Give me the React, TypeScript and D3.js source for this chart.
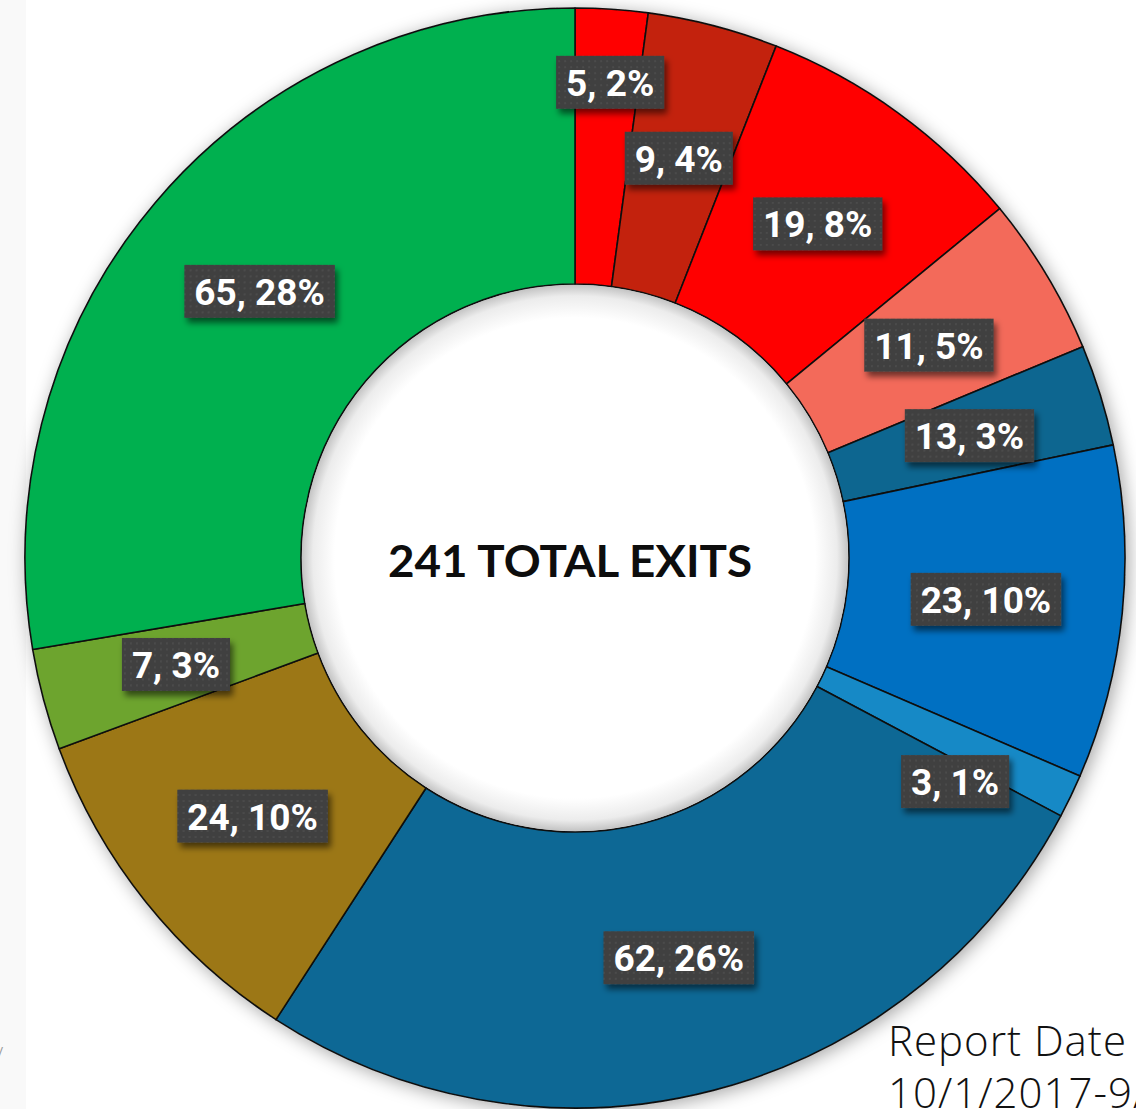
import React from "react";
import * as d3 from "d3";

// slice sizes (the "13, 3%" slice is drawn as ~7 in the source)
const values = [5, 9, 19, 11, 7, 23, 3, 62, 24, 7, 65];
const labels = ["5, 2%", "9, 4%", "19, 8%", "11, 5%", "13, 3%", "23, 10%", "3, 1%", "62, 26%", "24, 10%", "7, 3%", "65, 28%"];
const colors = ["#FF0000", "#C3220F", "#FF0000", "#F36A5A", "#0C6690", "#0070C2", "#1489C6", "#0F6895", "#9C7712", "#6DA42E", "#00B050"];
const centerTitle = "241 TOTAL EXITS";
const footer = ["Report Date", "10/1/2017-9/30/2018"];

const W = 1136;
const H = 1109;
const cx = 575;
const cy = 558;
const outerR = 550;
const innerR = 274;
const labelR = 413;
// a couple of labels were dragged in the original: [extra radius, extra angle in degrees]
const labelNudge: Record<number, [number, number]> = { 0: [64, 0.4], 6: [28, 4.8] };

const LABEL_FONT = "bold 37px Roboto";

const measure = (() => {
  let ctx: CanvasRenderingContext2D | null = null;
  return (s: string) => {
    if (!ctx) ctx = document.createElement("canvas").getContext("2d");
    if (!ctx) return s.length * 19;
    ctx.font = LABEL_FONT;
    return ctx.measureText(s).width;
  };
})();

export default function App() {
  const pie = d3.pie<number>().sort(null).value(d => d).startAngle(0).endAngle(2 * Math.PI);
  const arcs = pie(values);
  const arc = d3.arc<d3.PieArcDatum<number>>().innerRadius(innerR).outerRadius(outerR);

  return (
    <div style={{ position: "absolute", left: 0, top: 0, width: W, height: H, overflow: "hidden", background: "#fff" }}>
      <svg width={W} height={H}>
        <defs>
          <filter id="ringShadow" x="-10%" y="-10%" width="120%" height="120%">
            <feDropShadow dx="3" dy="3" stdDeviation="9" floodColor="#000" floodOpacity="0.35" />
          </filter>
          <filter id="boxShadow" x="-20%" y="-30%" width="140%" height="170%">
            <feDropShadow dx="3" dy="5" stdDeviation="3" floodColor="#000" floodOpacity="0.55" />
          </filter>
          <radialGradient id="hole" cx="50%" cy="50%" r="50%">
            <stop offset="0%" stopColor="#ffffff" />
            <stop offset="88%" stopColor="#ffffff" />
            <stop offset="96%" stopColor="#ececec" />
            <stop offset="100%" stopColor="#c4c4c4" />
          </radialGradient>
          <pattern id="dots" width="6" height="6" patternUnits="userSpaceOnUse">
            <rect width="6" height="6" fill="#404040" />
            <circle cx="3" cy="3" r="0.8" fill="#585858" />
          </pattern>
        </defs>

        <rect x={0} y={0} width={26} height={H} fill="#F9F9F9" />

        <g transform={`translate(${cx},${cy})`}>
          <g filter="url(#ringShadow)">
            {arcs.map((a, i) => (
              <path key={i} d={arc(a) || ""} fill={colors[i]} stroke="#111" strokeWidth={1.6} strokeLinejoin="round" />
            ))}
          </g>
          <circle r={innerR - 1} fill="url(#hole)" />

          {arcs.map((a, i) => {
            const [dr, da] = labelNudge[i] || [0, 0];
            const r = labelR + dr;
            const ang = (a.startAngle + a.endAngle) / 2 + (da * Math.PI) / 180;
            const lx = r * Math.sin(ang);
            const ly = -r * Math.cos(ang);
            const tw = measure(labels[i]);
            const bw = tw + 20;
            const bh = 53;
            return (
              <g key={"l" + i} transform={`translate(${lx},${ly})`}>
                <rect x={-bw / 2} y={-bh / 2} width={bw} height={bh} fill="url(#dots)" filter="url(#boxShadow)" />
                <text
                  x={0}
                  y={1}
                  textAnchor="middle"
                  dominantBaseline="central"
                  fill="#fff"
                  style={{ font: LABEL_FONT }}
                >
                  {labels[i]}
                </text>
              </g>
            );
          })}

          <text
            x={-5}
            y={2}
            textAnchor="middle"
            dominantBaseline="central"
            fill="#0d0d0d"
            textLength={364}
            lengthAdjust="spacingAndGlyphs"
            style={{ font: "bold 44px Lato" }}
          >
            {centerTitle}
          </text>
        </g>

        {footer.map((t, i) => (
          <text key={t} x={888} y={1056 + i * 52} fill="#111" letterSpacing={1} style={{ font: "300 42px 'Open Sans'" }}>
            {t}
          </text>
        ))}
        <text x={-2} y={1057} fill="#999" style={{ font: "14px 'Open Sans'" }}>/</text>
      </svg>
    </div>
  );
}
